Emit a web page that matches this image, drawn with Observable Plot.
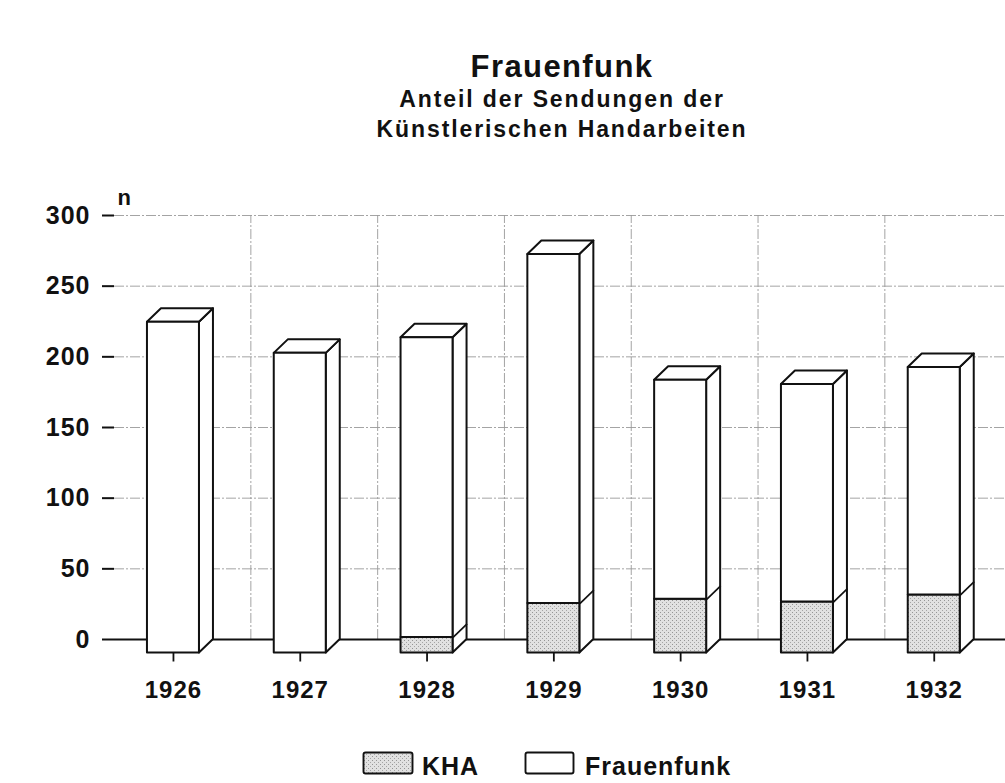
<!DOCTYPE html>
<html><head><meta charset="utf-8">
<script src="https://cdn.jsdelivr.net/npm/d3@7"></script>
<script src="https://cdn.jsdelivr.net/npm/@observablehq/plot@0.6"></script>
<style>
body{margin:0;background:#fff;font-family:"Liberation Sans",Arial,Helvetica,sans-serif;font-weight:bold;color:#111;}
#wrap{position:relative;width:1005px;height:783px;overflow:hidden;}
#head{position:relative;height:160px;}
#head div{position:absolute;left:562px;transform:translateX(-50%);white-space:nowrap;line-height:1;}
#t1{top:51px;font-size:31px;letter-spacing:1.4px;}
#t2{top:88px;font-size:23px;letter-spacing:1.9px;}
#t3{top:118px;font-size:23px;letter-spacing:1.9px;}
#chart{height:560px;}
#legend{position:relative;height:63px;}
</style></head>
<body>
<div id="wrap">
  <div id="head">
    <div id="t1">Frauenfunk</div>
    <div id="t2">Anteil der Sendungen der</div>
    <div id="t3">Künstlerischen Handarbeiten</div>
  </div>
  <div id="chart"></div>
  <div id="legend"></div>
</div>
<script>
// ---- data ----
const years = [1926, 1927, 1928, 1929, 1930, 1931, 1932];
const frauenfunk = [234, 212, 223, 282, 193, 190, 202]; // total broadcasts
const kha = [0, 0, 11, 35, 38, 36, 41];                // Künstlerische Handarbeiten share
const yTicks = [0, 50, 100, 150, 200, 250, 300];
const seriesNames = ["KHA", "Frauenfunk"];
const yLabel = "n";

// ---- layout ----
const W = 1005, H = 560, mL = 114, mR = 0, mT = 55, mB = 81;
const xDom = [1925.535, 1932.562];
const yDom = [0, 300];
const xu = (xDom[1] - xDom[0]) / (W - mL - mR);
const yu = (yDom[1] - yDom[0]) / (H - mT - mB);
const depthX = 14 * xu, depthY = 13.5 * yu, half = 26 * xu;

const rows = years.map((y, i) => ({year: y, total: frauenfunk[i], kha: kha[i]}));
const frontKha = rows.filter(d => d.kha > 0).map(d =>
  ({year: d.year, lo: d.year - half, hi: d.year + half, y1: -depthY, y2: d.kha - depthY}));
const frontFF = rows.map(d =>
  ({year: d.year, lo: d.year - half, hi: d.year + half, y1: d.kha - depthY, y2: d.total - depthY}));
const side = rows.flatMap(d => [
  {year: d.year, x: d.year + half, y1: -depthY, y2: d.total - depthY},
  {year: d.year, x: d.year + half + depthX, y1: 0, y2: d.total}
]);
const topFace = rows.flatMap(d => [
  {year: d.year, y: d.total - depthY, x1: d.year - half, x2: d.year + half},
  {year: d.year, y: d.total, x1: d.year - half + depthX, x2: d.year + half + depthX}
]);
const khaEdge = rows.filter(d => d.kha > 0);
const gridX = years.map(y => y + 0.5 + depthX);

const ink = "#111";
const grid = {stroke: "#9a9a9a", strokeWidth: 0.9, strokeDasharray: "10,2,2,2"};
const face = {stroke: ink, strokeWidth: 2, strokeLinejoin: "round"};

// ---- legend (also holds the stipple pattern definition) ----
const lg = d3.select("#legend").append("svg").attr("width", W).attr("height", 63)
  .style("position", "absolute").style("left", 0).style("top", 0);
const pat = lg.append("defs").append("pattern").attr("id", "khaPat")
  .attr("width", 4).attr("height", 4).attr("patternUnits", "userSpaceOnUse");
pat.append("rect").attr("width", 4).attr("height", 4).attr("fill", "#e1e1e1");
pat.append("rect").attr("x", 0).attr("y", 0).attr("width", 1).attr("height", 1).attr("fill", "#959595");
pat.append("rect").attr("x", 2).attr("y", 2).attr("width", 1).attr("height", 1).attr("fill", "#a5a5a5");
const items = [
  {name: seriesNames[0], bx: 363.5, bw: 49, tx: 422, fill: "url(#khaPat)"},
  {name: seriesNames[1], bx: 525.5, bw: 48, tx: 585, fill: "#fff"}
];
items.forEach(it => {
  lg.append("rect").attr("x", it.bx).attr("y", 32.5).attr("width", it.bw).attr("height", 21)
    .attr("rx", 2).attr("fill", it.fill).attr("stroke", ink).attr("stroke-width", 1.9);
  lg.append("text").attr("x", it.tx).attr("y", 55).text(it.name)
    .attr("font-size", 25).attr("font-weight", "bold").attr("letter-spacing", "1px")
    .attr("font-family", '"Liberation Sans", Arial, sans-serif').attr("fill", ink);
});

const plot = Plot.plot({
  width: W, height: H,
  marginLeft: mL, marginRight: mR, marginTop: mT, marginBottom: mB,
  x: {type: "linear", domain: xDom, axis: null},
  y: {domain: yDom, axis: null},
  style: {fontFamily: '"Liberation Sans", Arial, sans-serif', fontWeight: "bold", fontSize: "24px", color: ink, background: "#fff", letterSpacing: "1px", overflow: "visible"},
  marks: [
    Plot.ruleY(yTicks.filter(v => v > 0), grid),
    Plot.ruleX(gridX, {...grid, y1: yDom[0], y2: yDom[1]}),
    Plot.ruleY([0], {stroke: ink, strokeWidth: 2}),
    Plot.axisY({ticks: yTicks, tickSize: 12, tickPadding: 12, strokeWidth: 2, label: null, fontSize: 25}),
    Plot.text([yLabel], {frameAnchor: "top-left", dx: 3, dy: -26, fontSize: 22}),
    // 3D bars
    Plot.areaY(side, {x: "x", y1: "y1", y2: "y2", z: "year", fill: "#fff", ...face}),
    Plot.areaX(topFace, {y: "y", x1: "x1", x2: "x2", z: "year", fill: "#fff", ...face}),
    Plot.rect(frontKha, {x1: "lo", x2: "hi", y1: "y1", y2: "y2", fill: "url(#khaPat)", ...face}),
    Plot.rect(frontFF, {x1: "lo", x2: "hi", y1: "y1", y2: "y2", fill: "#fff", ...face}),
    Plot.link(khaEdge, {x1: d => d.year + half, y1: d => d.kha - depthY, x2: d => d.year + half + depthX, y2: d => d.kha, stroke: ink, strokeWidth: 1.7}),
    // x ticks & labels
    Plot.ruleX(years, {x: d => d, y1: -depthY, y2: -depthY - 9 * yu, stroke: ink, strokeWidth: 1.8}),
    Plot.text(years, {x: d => d, y: 0, dy: 51, text: d => String(d), fontSize: 24})
  ]
});
document.getElementById("chart").appendChild(plot);
</script>
</body></html>
